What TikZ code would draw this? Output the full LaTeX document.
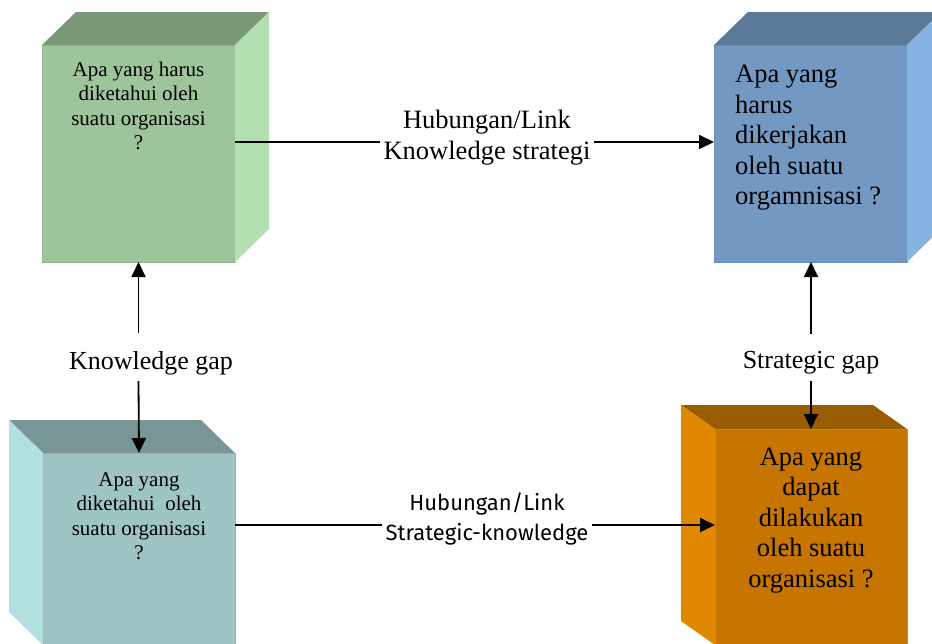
\documentclass[tikz,border=0pt]{standalone}
\usepackage{fontspec}
\setmainfont{Liberation Serif}
\newfontfamily\casualfont{Fira Sans}
\usetikzlibrary{arrows.meta}
\definecolor{gfront}{HTML}{9DC49B}
\definecolor{gtop}{HTML}{7A9878}
\definecolor{gside}{HTML}{B3E0B0}
\definecolor{bfront}{HTML}{7399C3}
\definecolor{btop}{HTML}{5B7A99}
\definecolor{bside}{HTML}{87B3E0}
\definecolor{tfront}{HTML}{9EC4C4}
\definecolor{ttop}{HTML}{789696}
\definecolor{tside}{HTML}{B2E0E0}
\definecolor{ofront}{HTML}{C57500}
\definecolor{otop}{HTML}{9A5C00}
\definecolor{oside}{HTML}{E08900}
\begin{document}
\begin{tikzpicture}[x=1pt,y=-1pt,
  frontface/.style={rectangle,inner sep=0pt,outer sep=0pt,line width=0.8pt},
  smalltext/.style={font=\fontsize{21}{24.5}\selectfont,align=center,inner sep=0pt},
  bigtext/.style={font=\fontsize{26.5}{30.5}\selectfont,inner sep=0pt},
  gaplabel/.style={font=\fontsize{26}{31}\selectfont,inner sep=0pt},
  arr/.style={line width=1.8pt,-{Triangle[length=15pt,width=14pt]}}
]
\useasboundingbox (0,0) rectangle (932,643);
\clip (0,0) rectangle (932,643);
\fill[white] (0,0) rectangle (932,643);

% Box 1 (green, top left)
\node[frontface,fill=gfront,draw=gfront!92!black,minimum width=193pt,minimum height=217pt] (b1) at (138.5,153.5) {};
\fill[gtop] (b1.north west) -- ++(34,-33) -- ([shift={(34,-33)}]b1.north east) -- (b1.north east) -- cycle;
\fill[gside] (b1.north east) -- ++(34,-33) -- ([shift={(34,-33)}]b1.south east) -- (b1.south east) -- cycle;
\node[smalltext] (t1) at (138.5,106) {Apa yang harus\\diketahui oleh\\suatu organisasi\\?};

% Box 2 (blue, top right)
\node[frontface,fill=bfront,draw=bfront!92!black,minimum width=193pt,minimum height=217pt] (b2) at (810.5,153.5) {};
\fill[btop] (b2.north west) -- ++(34,-33) -- ([shift={(34,-33)}]b2.north east) -- (b2.north east) -- cycle;
\fill[bside] (b2.north east) -- ++(34,-33) -- ([shift={(34,-33)}]b2.south east) -- (b2.south east) -- cycle;
\node[bigtext,anchor=west,align=left] (t2) at (735,138) {Apa yang\\harus\\dikerjakan\\oleh suatu\\orgamnisasi ?};

% Box 3 (teal, bottom left)
\node[frontface,fill=tfront,draw=tfront!92!black,minimum width=192pt,minimum height=192pt] (b3) at (139,549) {};
\fill[ttop] (b3.north west) -- ++(-34,-33) -- ([shift={(-34,-33)}]b3.north east) -- (b3.north east) -- cycle;
\fill[tside] (b3.north west) -- ++(-34,-33) -- ([shift={(-34,-33)}]b3.south west) -- (b3.south west) -- cycle;
\node[smalltext] (t3) at (139,516) {Apa yang\\diketahui~ oleh\\suatu organisasi\\?};

% Box 4 (orange, bottom right)
\node[frontface,fill=ofront,draw=ofront!85!white,minimum width=192pt,minimum height=216pt] (b4) at (811,537) {};
\fill[otop] (b4.north west) -- ++(-34,-24) -- ([shift={(-34,-24)}]b4.north east) -- (b4.north east) -- cycle;
\fill[oside] (b4.north west) -- ++(-34,-24) -- ([shift={(-34,-24)}]b4.south west) -- (b4.south west) -- cycle;
\node[bigtext,align=center] (t4) at (811,520.5) {Apa yang\\dapat\\dilakukan\\oleh suatu\\organisasi ?};

% Horizontal links
\coordinate (l1) at (487,142);
\draw[arr] (b1.east |- l1) -- (b2.west |- l1);
\node[font=\fontsize{26.5}{31}\selectfont,align=center,fill=white,inner xsep=4pt,inner ysep=0pt] (lab1) at (487,138) {Hubungan/Link\\Knowledge strategi};

\coordinate (l2) at (487,525);
\draw[arr] (b3.east |- l2) -- (b4.west |- l2);
\node[font=\casualfont\fontsize{22}{30}\selectfont,align=center,fill=white,inner xsep=4pt,inner ysep=0pt] (lab2) at (487,519) {Hubungan/Link\\Strategic-knowledge};

% Gap labels and arrows
\node[gaplabel] (kg) at (151,363) {Knowledge gap};
\coordinate (kgu) at (138.5,333);
\coordinate (kgd) at (138.5,381);
\draw[arr] (kgu) -- (b1.south);
\draw[arr] (kgd) -- (b3.north);

\node[gaplabel] (sg) at (811,363) {Strategic gap};
\coordinate (sgu) at (811,334);
\coordinate (sgd) at (811,381);
\draw[arr] (sgu) -- (b2.south -| sgu);
\draw[arr] (sgd) -- (b4.north);
\end{tikzpicture}
\end{document}
